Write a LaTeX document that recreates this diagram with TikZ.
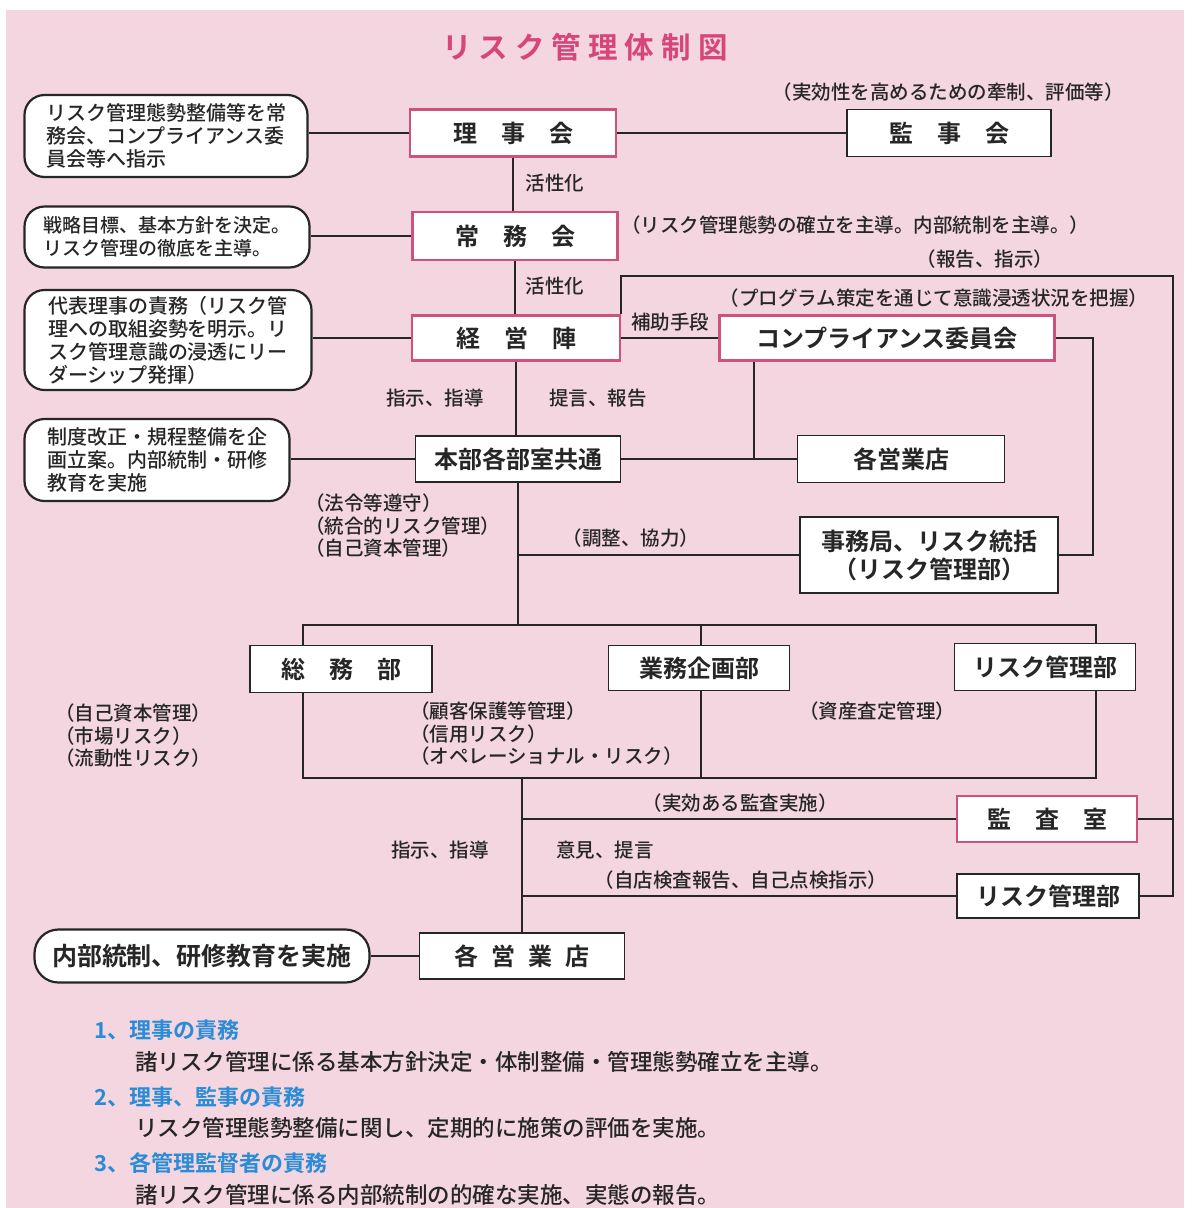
\documentclass[tikz,border=0pt]{standalone}
\usepackage{fontspec}
\setmainfont{Noto Sans CJK JP}[BoldFont={Noto Sans CJK JP Bold}]
\newfontfamily\medfont{Noto Sans CJK JP Medium}
\definecolor{bgpink}{RGB}{244,214,224}
\definecolor{pinkline}{RGB}{205,82,128}
\definecolor{titlepink}{RGB}{214,70,122}
\definecolor{headblue}{RGB}{42,140,214}
\definecolor{ink}{RGB}{38,38,38}
\tikzset{
  base/.style={draw=ink, fill=white, line width=1.8pt, inner sep=0pt, text=ink},
  sqbox/.style={base, font=\bfseries\fontsize{24}{28}\selectfont},
  pkbox/.style={sqbox, draw=pinkline, line width=2.6pt},
  rbox/.style={base, rounded corners=20pt, line width=2.2pt, align=left, font=\medfont\fontsize{20}{23}\selectfont},
  note/.style={inner sep=0pt, text=ink, font=\medfont\fontsize{19.5}{22.5}\selectfont},
  notes/.style={note, align=left, anchor=north west},
  conn/.style={draw=ink, line width=1.8pt},
  head/.style={inner sep=0pt, anchor=west, text=headblue, font=\bfseries\fontsize{22}{26}\selectfont},
  body/.style={inner sep=0pt, anchor=west, text=ink, font=\medfont\fontsize{22.5}{26}\selectfont},
}
\begin{document}
\begin{tikzpicture}[x=1pt,y=-1pt]
\path[use as bounding box] (0,0) rectangle (1192,1208);
\fill[white] (0,0) rectangle (1192,1208);
\fill[bgpink] (6,10) rectangle (1184,1208);

% title
\node[inner sep=0pt, text=titlepink, font=\bfseries\fontsize{29.5}{34}\selectfont] (title) at (585,47)
  {リ\kern7pt ス\kern7pt ク\kern7pt 管\kern7pt 理\kern7pt 体\kern7pt 制\kern7pt 図};

% main boxes
\node[pkbox, minimum width=206pt, minimum height=47pt] (riji) at (513,133) {理　事　会};
\node[sqbox, minimum width=204pt, minimum height=47pt] (kanji) at (949,133) {監　事　会};
\node[pkbox, minimum width=205pt, minimum height=48pt] (jomu) at (515,236) {常　務　会};
\node[pkbox, minimum width=208pt, minimum height=45pt] (keiei) at (516,338) {経　営　陣};
\node[pkbox, minimum width=335pt, minimum height=45pt] (comp) at (887,338) {コンプライアンス委員会};
\node[sqbox, minimum width=205pt, minimum height=46pt] (honbu) at (518,459) {本部各部室共通};
\node[sqbox, minimum width=207pt, minimum height=47pt] (eigyo1) at (901,459) {各営業店};
\node[sqbox, minimum width=258pt, minimum height=76pt, align=center] (jimu) at (929,555) {事務局、リスク統括\\（リスク管理部）};
\node[sqbox, minimum width=182pt, minimum height=47pt] (somu) at (341,669) {総　務　部};
\node[sqbox, minimum width=181pt, minimum height=45pt] (gyomu) at (699,668) {業務企画部};
\node[sqbox, minimum width=181pt, minimum height=47pt] (risk1) at (1045,667) {リスク管理部};
\node[pkbox, minimum width=180pt, minimum height=46pt] (kansa) at (1047,819) {監　査　室};
\node[sqbox, minimum width=182pt, minimum height=44pt] (risk2) at (1048,896) {リスク管理部};
\node[sqbox, minimum width=205pt, minimum height=46pt] (eigyo2) at (522,956) {各\hspace{13pt}営\hspace{13pt}業\hspace{13pt}店};

% rounded boxes
\node[rbox, minimum width=283pt, minimum height=82pt] (r1) at (166,136)
  {リスク管理態勢整備等を常\\務会、コンプライアンス委\\員会等へ指示};
\node[rbox, minimum width=285pt, minimum height=61pt, font=\medfont\fontsize{19}{23}\selectfont] (r2) at (167,237)
  {戦略目標、基本方針を決定。\\リスク管理の徹底を主導。};
\node[rbox, minimum width=287pt, minimum height=100pt] (r3) at (168,340)
  {代表理事の責務（リスク管\\理への取組姿勢を明示。リ\\スク管理意識の浸透にリー\\ダーシップ発揮）};
\node[rbox, minimum width=265pt, minimum height=82pt] (r4) at (157,460)
  {制度改正・規程整備を企\\画立案。内部統制・研修\\教育を実施};
\node[rbox, minimum width=335pt, minimum height=53pt, rounded corners=24pt, font=\bfseries\fontsize{25}{28}\selectfont] (r5) at (202,956)
  {内部統制、研修教育を実施};

% connectors
\draw[conn] (r1.east |- riji.west) -- (riji.west);
\draw[conn] (riji.east) -- (kanji.west);
\draw[conn] (riji.south) -- (riji.south |- jomu.north);
\draw[conn] (r2.east |- jomu.west) -- (jomu.west);
\draw[conn] (jomu.south) -- (jomu.south |- keiei.north);
\draw[conn] (r3.east |- keiei.west) -- (keiei.west);
\draw[conn] (keiei.east) -- (comp.west);
\coordinate (rtop) at (1173,276);
\draw[conn] (keiei.north east) -- (keiei.north east |- rtop) -- (rtop) -- (rtop |- risk2.east) -- (risk2.east);
\draw[conn] (kansa.east) -- (kansa.east -| rtop);
\coordinate (cr) at (1093,338);
\draw[conn] (comp.east) -- (cr) -- (cr |- jimu.east) -- (jimu.east);
\draw[conn] (keiei.south) -- (keiei.south |- honbu.north);
\draw[conn] (r4.east |- honbu.west) -- (honbu.west);
\draw[conn] (honbu.east) -- (eigyo1.west);
\coordinate (cj) at (754,459);
\draw[conn] (cj) -- (cj |- comp.south);
\coordinate (topL) at (303,625);
\coordinate (topR) at (1096,625);
\coordinate (botL) at (303,778);
\coordinate (botR) at (1096,778);
\coordinate (midT) at (701,625);
\coordinate (midB) at (701,778);
\draw[conn] (honbu.south) -- (honbu.south |- topL);
\draw[conn] (honbu.south |- jimu.west) -- (jimu.west);
\draw[conn] (somu.north -| topL) -- (topL) -- (topR) -- (risk1.north -| topR);
\draw[conn] (risk1.south -| topR) -- (botR) -- (botL) -- (somu.south -| botL);
\draw[conn] (midT) -- (gyomu.north -| midT);
\draw[conn] (gyomu.south -| midB) -- (midB);
\draw[conn] (eigyo2.north |- botL) -- (eigyo2.north);
\draw[conn] (eigyo2.north |- kansa.west) -- (kansa.west);
\draw[conn] (eigyo2.north |- risk2.west) -- (risk2.west);
\draw[conn] (r5.east) -- (eigyo2.west);

% notes
\node[note] (n1) at (948,92) {（実効性を高めるための牽制、評価等）};
\node[note] (n2) at (555,183) {活性化};
\node[note, anchor=west] (n3) at (621,225) {（リスク管理態勢の確立を主導。内部統制を主導。）};
\node[note] (n4) at (985,259) {（報告、指示）};
\node[note] (n5) at (555,286) {活性化};
\node[note] (n6) at (934,298) {（プログラム策定を通じて意識浸透状況を把握）};
\node[note] (n7) at (670,322) {補助手段};
\node[note] (n8) at (435,398) {指示、指導};
\node[note] (n9) at (598,398) {提言、報告};
\node[notes] (n10) at (305,494) {（法令等遵守）\\（統合的リスク管理）\\（自己資本管理）};
\node[note] (n11) at (631,538) {（調整、協力）};
\node[notes] (n12) at (55,704) {（自己資本管理）\\（市場リスク）\\（流動性リスク）};
\node[notes] (n13) at (410,702) {（顧客保護等管理）\\（信用リスク）\\（オペレーショナル・リスク）};
\node[note] (n14) at (877,711) {（資産査定管理）};
\node[note] (n15) at (740,803) {（実効ある監査実施）};
\node[note] (n16) at (440,850) {指示、指導};
\node[note] (n17) at (605,850) {意見、提言};
\node[note] (n18) at (741,880) {（自店検査報告、自己点検指示）};

% bottom text
\node[head] (h1) at (94,1030) {1、理事の責務};
\node[body] (b1) at (135,1062) {諸リスク管理に係る基本方針決定・体制整備・管理態勢確立を主導。};
\node[head] (h2) at (94,1097) {2、理事、監事の責務};
\node[body] (b2) at (135,1128) {リスク管理態勢整備に関し、定期的に施策の評価を実施。};
\node[head] (h3) at (94,1163) {3、各管理監督者の責務};
\node[body] (b3) at (135,1195) {諸リスク管理に係る内部統制の的確な実施、実態の報告。};
\end{tikzpicture}
\end{document}
